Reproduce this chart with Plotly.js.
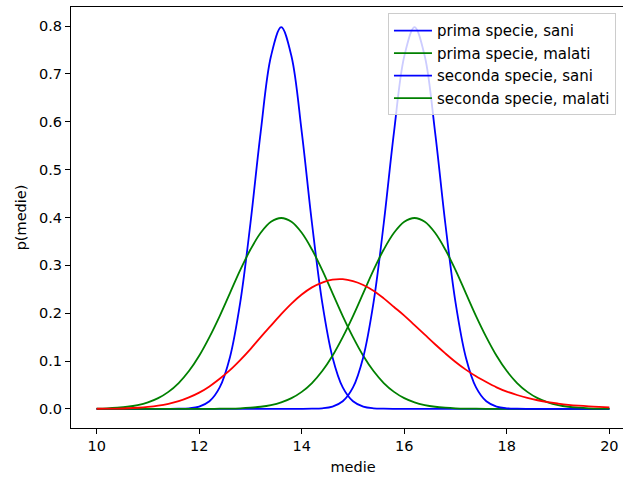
<!DOCTYPE html>
<html>
<head>
<meta charset="utf-8">
<script src="https://cdn.plot.ly/plotly-3.0.1.min.js"></script>
<style>
html, body { margin: 0; padding: 0; overflow: hidden; background: #fff; }
#chart { width: 650px; height: 478px; }
</style>
</head>
<body>
<div id="chart"></div>
<script>
// x grid (medie)
const medie = [10.0,10.2,10.4,10.6,10.8,11.0,11.2,11.4,11.6,11.8,
               12.0,12.2,12.4,12.6,12.8,13.0,13.2,13.4,13.6,13.8,
               14.0,14.2,14.4,14.6,14.8,15.0,15.2,15.4,15.6,15.8,
               16.0,16.2,16.4,16.6,16.8,17.0,17.2,17.4,17.6,17.8,
               18.0,18.2,18.4,18.6,18.8,19.0,19.2,19.4,19.6,19.8,20.0];

const primaSani = [0,0,0,0,0,0,0,0.00005,0.0003,0.0012,
                   0.0048,0.0158,0.0448,0.108,0.222,0.388,0.579,0.737,0.798,0.737,
                   0.579,0.388,0.222,0.108,0.0448,0.0158,0.0048,0.0012,0.0003,0.00005,
                   0,0,0,0,0,0,0,0,0,0,
                   0,0,0,0,0,0,0,0,0,0,0];

const primaMalati = [0.0006,0.0012,0.0024,0.0044,0.0079,0.0136,0.0224,0.0355,0.054,0.079,
                     0.111,0.150,0.194,0.242,0.290,0.333,0.368,0.391,0.399,0.391,
                     0.368,0.333,0.290,0.242,0.194,0.150,0.111,0.079,0.054,0.0355,
                     0.0224,0.0136,0.0079,0.0044,0.0024,0.0012,0.0006,0.0003,0.0001,0.00005,
                     0,0,0,0,0,0,0,0,0,0,0];

const secondaSani = [0,0,0,0,0,0,0,0,0,0,
                     0,0,0,0,0,0,0,0,0,0,
                     0.00005,0.0003,0.0012,0.0048,0.0158,0.0448,0.108,0.222,0.388,0.579,
                     0.737,0.798,0.737,0.579,0.388,0.222,0.108,0.0448,0.0158,0.0048,
                     0.0012,0.0003,0.00005,0,0,0,0,0,0,0,0];

const secondaMalati = [0,0,0,0,0,0,0,0,0,0,
                       0.00005,0.0001,0.0003,0.0006,0.0012,0.0024,0.0044,0.0079,0.0136,0.0224,
                       0.0355,0.054,0.079,0.111,0.150,0.194,0.242,0.290,0.333,0.368,
                       0.391,0.399,0.391,0.368,0.333,0.290,0.242,0.194,0.150,0.111,
                       0.079,0.054,0.0355,0.0224,0.0136,0.0079,0.0044,0.0024,0.0012,0.0006,0.0003];

const rosso = [0.0002,0.0003,0.0007,0.0013,0.0023,0.004,0.0066,0.0105,0.016,0.024,
               0.034,0.047,0.063,0.081,0.102,0.125,0.150,0.174,0.198,0.220,
               0.239,0.254,0.264,0.270,0.271,0.267,0.259,0.247,0.231,0.213,
               0.195,0.175,0.155,0.135,0.116,0.098,0.082,0.068,0.056,0.045,
               0.036,0.029,0.023,0.018,0.014,0.011,0.0085,0.0066,0.0051,0.004,0.0031];

const labels = ['prima specie, sani','prima specie, malati','seconda specie, sani','seconda specie, malati'];
const xTicks = [10,12,14,16,18,20];
const yTicks = [0,0.1,0.2,0.3,0.4,0.5,0.6,0.7,0.8];

const FONT = 'DejaVu Sans, sans-serif';
const FS = 14.5;
const LW = 1.8;
function line(y, color, name, show) {
  return {x: medie, y: y, type: 'scatter', mode: 'lines', name: name,
          showlegend: show, line: {color: color, width: LW, shape: 'spline', smoothing: 1}};
}
const data = [
  line(primaSani, '#0000ff', labels[0], true),
  line(primaMalati, '#008000', labels[1], true),
  line(secondaSani, '#0000ff', labels[2], true),
  line(secondaMalati, '#008000', labels[3], true),
  line(rosso, '#ff0000', '', false)
];
const axisCommon = {
  showgrid: false, zeroline: false, showline: true, mirror: true,
  linecolor: '#000', linewidth: 1, ticks: 'outside', ticklen: 5, tickwidth: 1,
  tickcolor: '#000', tickfont: {family: FONT, size: FS, color: '#000'}
};
const layout = {
  width: 650, height: 478,
  margin: {l: 71, r: 15, t: 7, b: 50},
  paper_bgcolor: '#fff', plot_bgcolor: '#fff',
  font: {family: FONT, size: FS, color: '#000'},
  xaxis: Object.assign({}, axisCommon, {
    range: [9.5, 20.5], tickvals: xTicks, ticktext: xTicks.map(String),
    title: {text: 'medie', font: {family: FONT, size: FS, color: '#000'}, standoff: 8}
  }),
  yaxis: Object.assign({}, axisCommon, {
    range: [-0.04, 0.84], tickvals: yTicks, tickformat: '.1f',
    title: {text: 'p(medie)', font: {family: FONT, size: FS, color: '#000'}, standoff: 8}
  }),
  legend: {
    x: 0.562, y: 0.985, xanchor: 'left', yanchor: 'top', itemwidth: 38,
    bgcolor: 'rgba(255,255,255,0.8)', bordercolor: '#cccccc', borderwidth: 1,
    font: {family: FONT, size: 15, color: '#000'}
  },
  showlegend: true
};
Plotly.newPlot('chart', data, layout, {displayModeBar: false, staticPlot: true});
</script>
</body>
</html>
